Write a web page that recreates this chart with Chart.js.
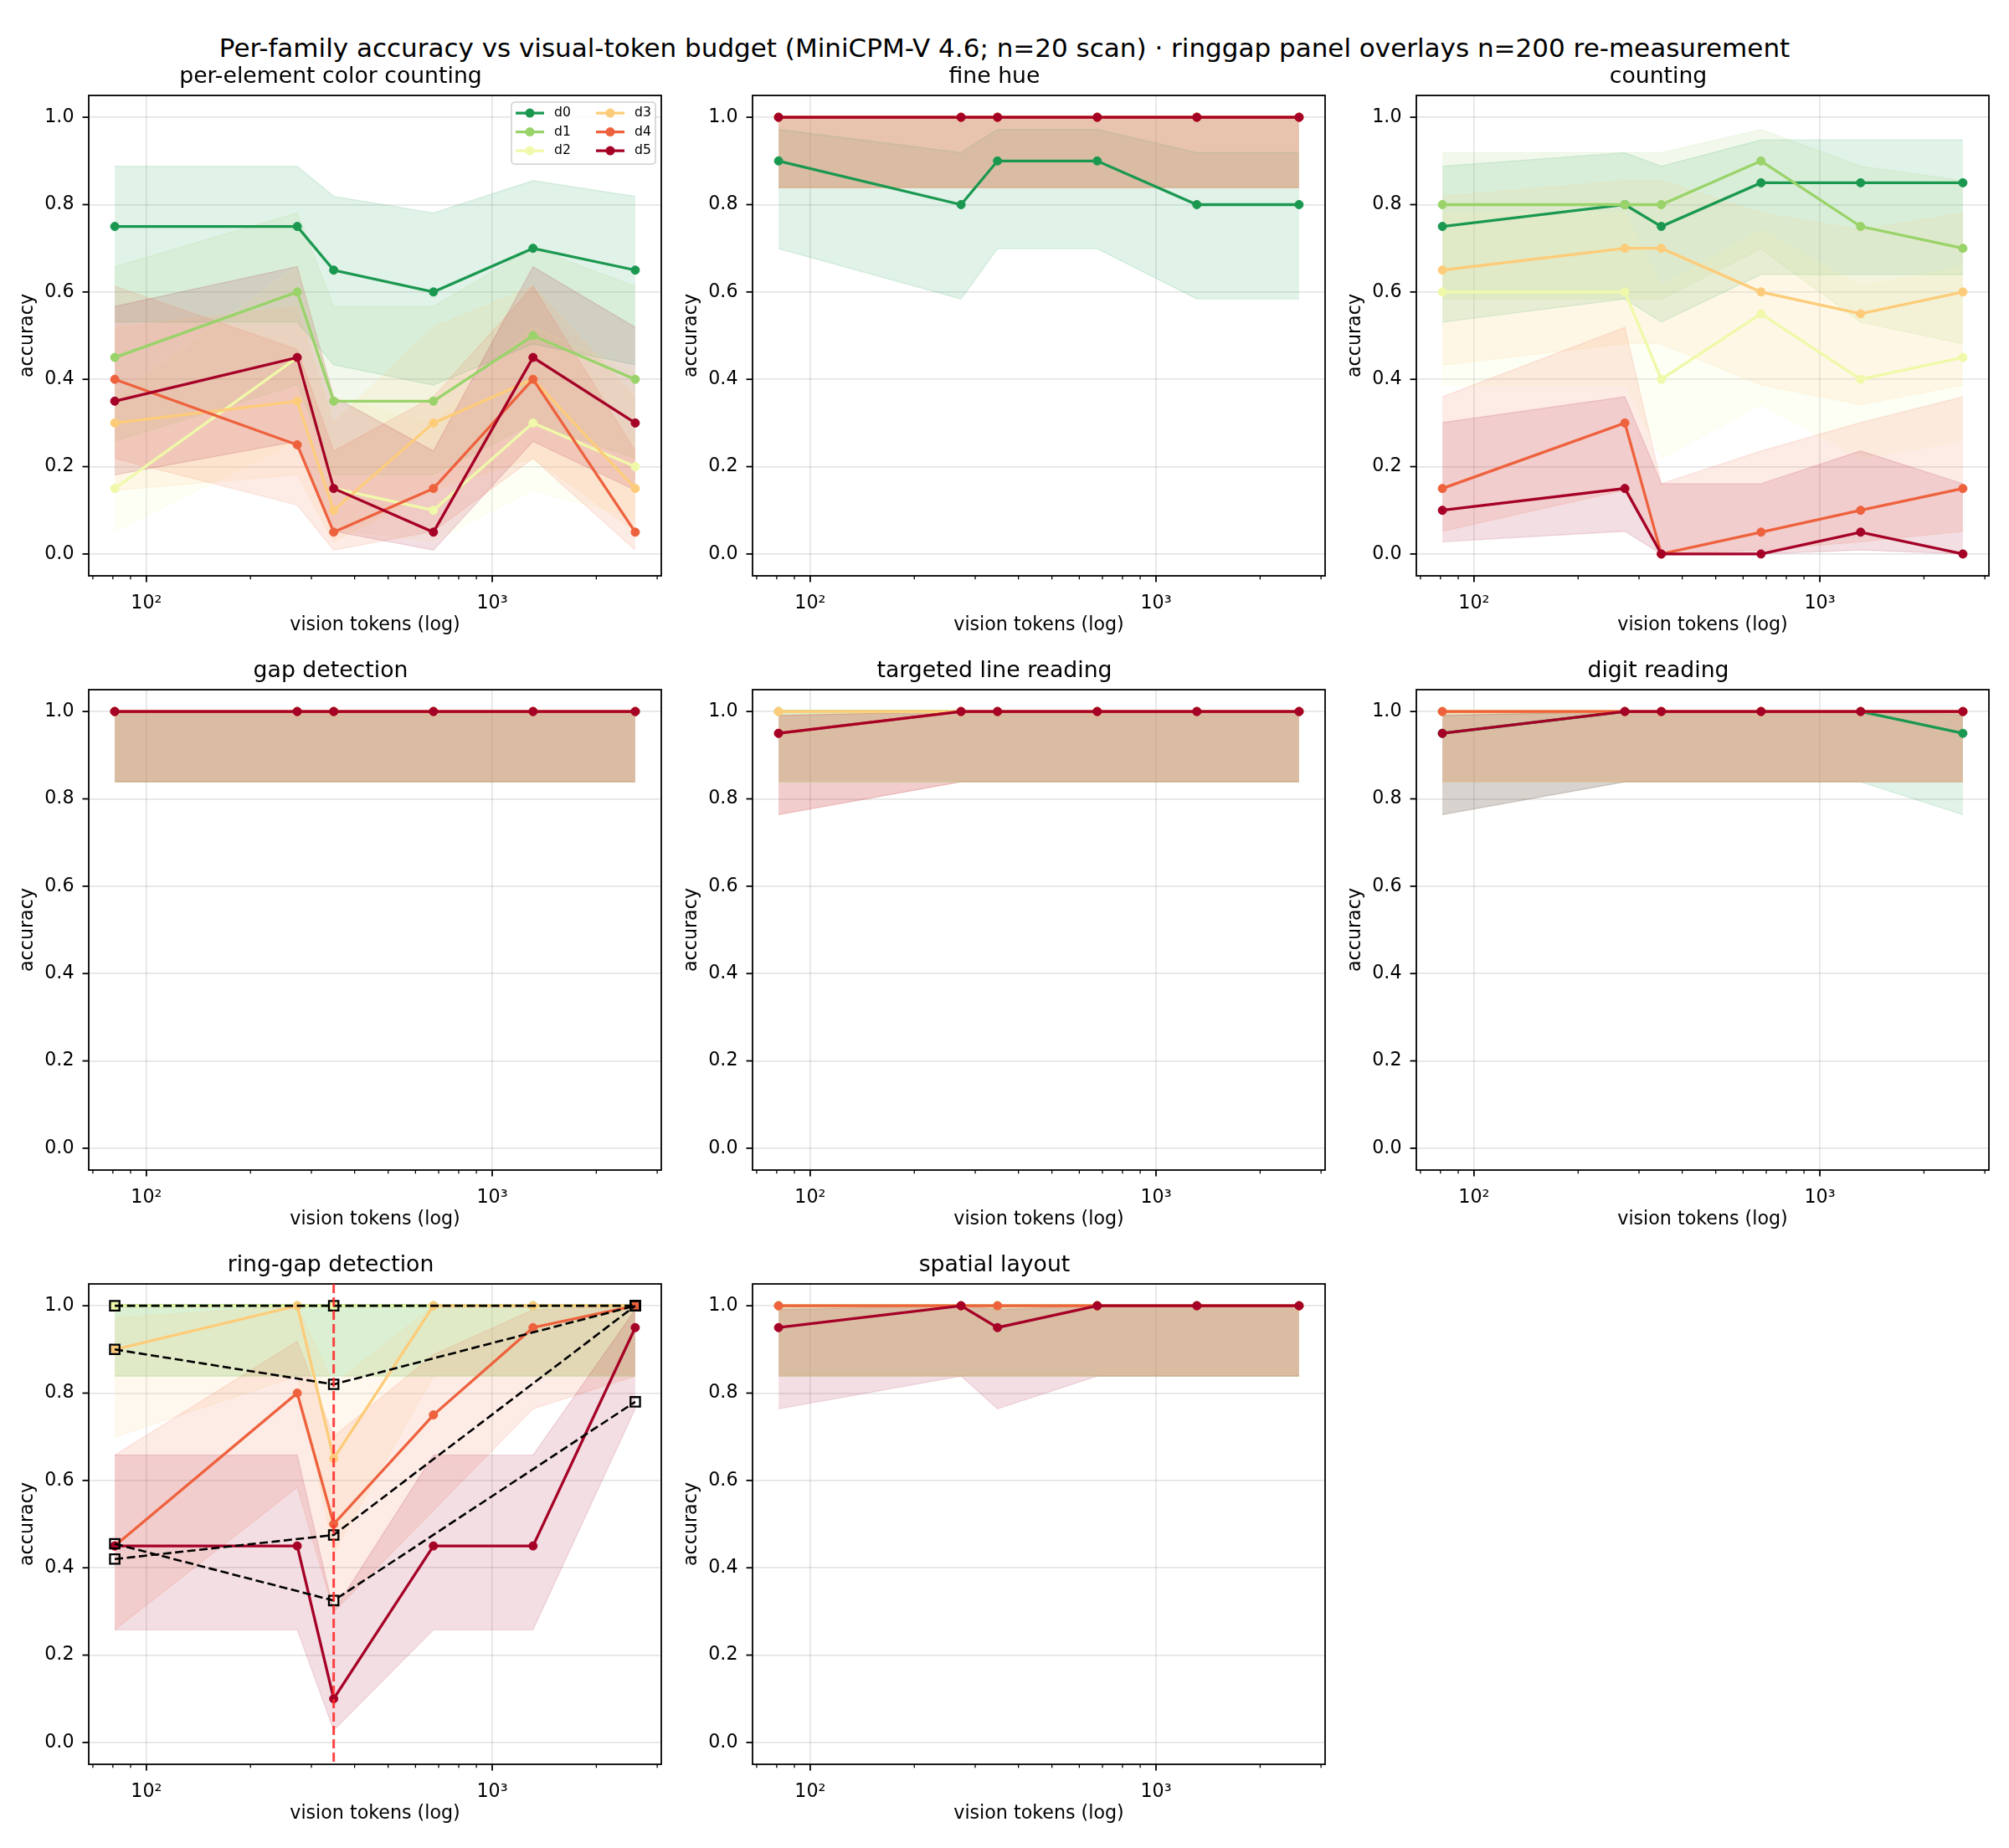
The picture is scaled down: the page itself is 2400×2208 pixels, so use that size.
<!DOCTYPE html>
<html>
<head>
<meta charset="utf-8">
<script src="https://cdn.jsdelivr.net/npm/chart.js@4.4.1/dist/chart.umd.min.js"></script>
<style>
  body { margin: 0; background: #fff; }
  #page { position: relative; width: 2400px; height: 2208px; background: #fff; overflow: hidden; }
  #suptitle { position: absolute; left: 0; top: 39px; width: 2400px; text-align: center;
              font: 31px "DejaVu Sans"; line-height: 36px; color: #000; white-space: nowrap; }
  canvas { position: absolute; }
</style>
</head>
<body>
<div id="page">
  <div id="suptitle">Per-family accuracy vs visual-token budget (MiniCPM-V 4.6; n=20 scan) · ringgap panel overlays n=200 re-measurement</div>
</div>
<script>
// x positions (vision tokens) shared by every panel
const tokens = [81, 273, 348, 676, 1312, 2592];
const families = ['d0', 'd1', 'd2', 'd3', 'd4', 'd5'];
const familyColors = ['#1a9850', '#99d369', '#f0f9aa', '#fdcc7a', '#ee613d', '#a50026'];

const xTicks = [70, 80, 90, 100, 200, 300, 400, 500, 600, 700, 800, 900, 1000, 2000, 3000];
const yTicks = [0, 0.2, 0.4, 0.6, 0.8, 1.0];

// accuracy, one row per family d0..d5 (n=20 scan)
const colorCounting = [
  [0.75, 0.75, 0.65, 0.60, 0.70, 0.65],
  [0.45, 0.60, 0.35, 0.35, 0.50, 0.40],
  [0.15, 0.45, 0.15, 0.10, 0.30, 0.20],
  [0.30, 0.35, 0.10, 0.30, 0.40, 0.15],
  [0.40, 0.25, 0.05, 0.15, 0.40, 0.05],
  [0.35, 0.45, 0.15, 0.05, 0.45, 0.30]
];
const fineHue = [
  [0.90, 0.80, 0.90, 0.90, 0.80, 0.80],
  [1, 1, 1, 1, 1, 1],
  [1, 1, 1, 1, 1, 1],
  [1, 1, 1, 1, 1, 1],
  [1, 1, 1, 1, 1, 1],
  [1, 1, 1, 1, 1, 1]
];
const counting = [
  [0.75, 0.80, 0.75, 0.85, 0.85, 0.85],
  [0.80, 0.80, 0.80, 0.90, 0.75, 0.70],
  [0.60, 0.60, 0.40, 0.55, 0.40, 0.45],
  [0.65, 0.70, 0.70, 0.60, 0.55, 0.60],
  [0.15, 0.30, 0.00, 0.05, 0.10, 0.15],
  [0.10, 0.15, 0.00, 0.00, 0.05, 0.00]
];
const gapDetection = [
  [1, 1, 1, 1, 1, 1],
  [1, 1, 1, 1, 1, 1],
  [1, 1, 1, 1, 1, 1],
  [1, 1, 1, 1, 1, 1],
  [1, 1, 1, 1, 1, 1],
  [1, 1, 1, 1, 1, 1]
];
const lineReading = [
  [1, 1, 1, 1, 1, 1],
  [1, 1, 1, 1, 1, 1],
  [1, 1, 1, 1, 1, 1],
  [1, 1, 1, 1, 1, 1],
  [0.95, 1, 1, 1, 1, 1],
  [0.95, 1, 1, 1, 1, 1]
];
const digitReading = [
  [0.95, 1, 1, 1, 1, 0.95],
  [1, 1, 1, 1, 1, 1],
  [1, 1, 1, 1, 1, 1],
  [1, 1, 1, 1, 1, 1],
  [1, 1, 1, 1, 1, 1],
  [0.95, 1, 1, 1, 1, 1]
];
const ringGap = [
  [1, 1, 1, 1, 1, 1],
  [1, 1, 1, 1, 1, 1],
  [1, 1, 1, 1, 1, 1],
  [0.90, 1.00, 0.65, 1.00, 1.00, 1.00],
  [0.45, 0.80, 0.50, 0.75, 0.95, 1.00],
  [0.45, 0.45, 0.10, 0.45, 0.45, 0.95]
];
const spatialLayout = [
  [1, 1, 1, 1, 1, 1],
  [1, 1, 1, 1, 1, 1],
  [1, 1, 1, 1, 1, 1],
  [1, 1, 1, 1, 1, 1],
  [1, 1, 1, 1, 1, 1],
  [0.95, 1, 0.95, 1, 1, 1]
];

// n=200 re-measurement on the ring-gap panel
const recheckTokens = [81, 348, 2592];
const recheckAcc = [
  [1.00, 1.00, 1.00],
  [0.90, 0.82, 1.00],
  [0.42, 0.475, 1.00],
  [0.455, 0.325, 0.78]
];
const recheckMark = 348;

// 95% band bounds for n=20, indexed by number correct (0..20)
const bandLow  = [0.000, 0.009, 0.028, 0.052, 0.081, 0.112, 0.146, 0.181, 0.219, 0.258, 0.299,
                  0.342, 0.387, 0.433, 0.481, 0.531, 0.584, 0.640, 0.699, 0.764, 0.839];
const bandHigh = [0.161, 0.236, 0.301, 0.360, 0.416, 0.469, 0.519, 0.567, 0.613, 0.658, 0.701,
                  0.742, 0.781, 0.819, 0.855, 0.888, 0.919, 0.948, 0.972, 0.991, 1.000];

const panels = [
  { title: 'per-element color counting', acc: colorCounting, legend: true },
  { title: 'fine hue', acc: fineHue },
  { title: 'counting', acc: counting },
  { title: 'gap detection', acc: gapDetection },
  { title: 'targeted line reading', acc: lineReading },
  { title: 'digit reading', acc: digitReading },
  { title: 'ring-gap detection', acc: ringGap, recheck: true },
  { title: 'spatial layout', acc: spatialLayout }
];

// layout (px)
const colLeft = [106, 899, 1692];
const rowTop = [114, 824, 1534];
const AX_W = 684, AX_H = 574;
const PAD_L = 106, PAD_T = 38, PAD_R = 106, PAD_B = 90;
const FONT = 'DejaVu Sans';
const GRID = 'rgba(0,0,0,0.1)';
const TICK_FONT = 22.2;

Chart.defaults.font.family = FONT;
Chart.defaults.color = '#000';

const lmin = Math.log10(tokens[0]), lmax = Math.log10(tokens[tokens.length - 1]);
const lpad = (lmax - lmin) * 0.05;
const X_MIN = Math.pow(10, lmin - lpad), X_MAX = Math.pow(10, lmax + lpad);

function isDecade(v) {
  const l = Math.log10(v);
  return Math.abs(l - Math.round(l)) < 1e-9;
}
function rgba(hex, a) {
  const n = parseInt(hex.slice(1), 16);
  return `rgba(${(n >> 16) & 255},${(n >> 8) & 255},${n & 255},${a})`;
}

const framePlugin = {
  id: 'frame',
  afterDatasetsDraw(chart) {
    const { ctx, chartArea: a, scales: { x, y } } = chart;
    ctx.save();
    ctx.strokeStyle = '#000';
    xTicks.forEach(v => {
      const px = x.getPixelForValue(v);
      if (px < a.left - 0.5 || px > a.right + 0.5) return;
      const major = isDecade(v);
      ctx.lineWidth = major ? 1.8 : 1.3;
      ctx.beginPath();
      ctx.moveTo(px, a.bottom);
      ctx.lineTo(px, a.bottom + (major ? 7.5 : 4.3));
      ctx.stroke();
    });
    yTicks.forEach(v => {
      const py = y.getPixelForValue(v);
      ctx.lineWidth = 1.8;
      ctx.beginPath();
      ctx.moveTo(a.left, py);
      ctx.lineTo(a.left - 7.5, py);
      ctx.stroke();
    });
    ctx.lineWidth = 1.8;
    ctx.strokeRect(a.left, a.top, a.right - a.left, a.bottom - a.top);
    ctx.restore();
  }
};

const markPlugin = {
  id: 'recheckMark',
  afterDatasetsDraw(chart) {
    const { ctx, chartArea: a, scales: { x } } = chart;
    const px = x.getPixelForValue(recheckMark);
    ctx.save();
    ctx.strokeStyle = 'rgba(255,40,40,0.85)';
    ctx.lineWidth = 3;
    ctx.setLineDash([11, 5]);
    ctx.beginPath();
    ctx.moveTo(px, a.top);
    ctx.lineTo(px, a.bottom);
    ctx.stroke();
    ctx.restore();
  }
};

const legendPlugin = {
  id: 'familyLegend',
  afterDraw(chart) {
    const { ctx, chartArea: a } = chart;
    const w = 172, h = 74;
    const bx = a.right - 7 - w, by = a.top + 8;
    ctx.save();
    ctx.beginPath();
    ctx.roundRect(bx, by, w, h, 4);
    ctx.fillStyle = 'rgba(255,255,255,0.8)';
    ctx.fill();
    ctx.strokeStyle = 'rgba(204,204,204,0.8)';
    ctx.lineWidth = 1.8;
    ctx.stroke();
    ctx.font = `15.6px "${FONT}"`;
    ctx.textBaseline = 'middle';
    families.forEach((name, i) => {
      const col = Math.floor(i / 3), row = i % 3;
      const x0 = bx + 5 + col * 96, yy = by + 13 + row * 22.5;
      ctx.strokeStyle = familyColors[i];
      ctx.lineWidth = 3.3;
      ctx.beginPath();
      ctx.moveTo(x0, yy);
      ctx.lineTo(x0 + 34, yy);
      ctx.stroke();
      ctx.beginPath();
      ctx.arc(x0 + 17, yy, 5.5, 0, Math.PI * 2);
      ctx.fillStyle = familyColors[i];
      ctx.fill();
      ctx.fillStyle = '#000';
      ctx.fillText(name, x0 + 46, yy);
    });
    ctx.restore();
  }
};

function buildDatasets(p) {
  const sets = [];
  p.acc.forEach((vals, i) => {
    const c = familyColors[i];
    const hi = vals.map((v, j) => ({ x: tokens[j], y: bandHigh[Math.round(v * 20)] }));
    const lo = vals.map((v, j) => ({ x: tokens[j], y: bandLow[Math.round(v * 20)] }));
    // higher order -> drawn earlier, so d5's band ends up on top like the reference
    sets.push({ data: hi, fill: '+1', backgroundColor: rgba(c, 0.13), borderColor: rgba(c, 0.13),
                borderWidth: 1.3, pointRadius: 0, order: 200 - i });
    sets.push({ data: lo, fill: false, borderColor: rgba(c, 0.13), borderWidth: 1.3,
                pointRadius: 0, order: 200 - i });
  });
  p.acc.forEach((vals, i) => {
    const c = familyColors[i];
    sets.push({
      label: families[i],
      data: vals.map((v, j) => ({ x: tokens[j], y: v })),
      borderColor: c, backgroundColor: c, borderWidth: 3.3, fill: false,
      pointRadius: 5, pointBorderWidth: 1, pointBackgroundColor: c, pointBorderColor: c,
      order: 50 - i
    });
  });
  if (p.recheck) {
    recheckAcc.forEach((vals, k) => {
      sets.push({
        label: 'n=200',
        data: vals.map((v, j) => ({ x: recheckTokens[j], y: v })),
        borderColor: '#000', borderWidth: 2.6, borderDash: [10, 4.5], fill: false,
        pointStyle: 'rect', pointRadius: 8, pointBorderWidth: 2.3,
        pointBackgroundColor: 'rgba(0,0,0,0)', pointBorderColor: '#000',
        order: 10 - k
      });
    });
  }
  return sets;
}

const page = document.getElementById('page');
panels.forEach((p, idx) => {
  const col = idx % 3, row = Math.floor(idx / 3);
  const cv = document.createElement('canvas');
  const W = PAD_L + AX_W + PAD_R, H = PAD_T + AX_H + PAD_B;
  cv.width = W; cv.height = H;
  cv.style.width = W + 'px'; cv.style.height = H + 'px';
  cv.style.left = (colLeft[col] - PAD_L) + 'px';
  cv.style.top = (rowTop[row] - PAD_T) + 'px';
  page.appendChild(cv);

  const plugins = [framePlugin];
  if (p.recheck) plugins.push(markPlugin);
  if (p.legend) plugins.push(legendPlugin);

  new Chart(cv, {
    type: 'line',
    data: { datasets: buildDatasets(p) },
    plugins,
    options: {
      responsive: false,
      animation: false,
      devicePixelRatio: 1,
      layout: { padding: { left: 0, right: PAD_R, top: 0, bottom: 0 } },
      plugins: {
        legend: { display: false },
        tooltip: { enabled: false },
        filler: { drawTime: 'beforeDatasetsDraw' },
        title: { display: true, text: p.title, color: '#000',
                 font: { family: FONT, size: 26.7, weight: 'normal' },
                 padding: { top: 0, bottom: 6 } }
      },
      scales: {
        x: {
          type: 'logarithmic', min: X_MIN, max: X_MAX,
          afterBuildTicks: s => { s.ticks = xTicks.map(v => ({ value: v, major: isDecade(v) })); },
          afterFit: s => { s.height = PAD_B; },
          ticks: { autoSkip: false, maxRotation: 0, minRotation: 0, padding: 12, color: '#000',
                   font: { family: FONT, size: TICK_FONT },
                   callback: v => v === 100 ? '10²' : (v === 1000 ? '10³' : '') },
          grid: { color: c => (c.tick && isDecade(c.tick.value)) ? GRID : 'rgba(0,0,0,0)',
                  lineWidth: 1.7, drawTicks: true, tickLength: 7.5, tickColor: 'rgba(0,0,0,0)' },
          border: { display: false },
          title: { display: true, text: 'vision tokens (log)', color: '#000',
                   font: { family: FONT, size: TICK_FONT }, padding: { top: 0, bottom: 17 } }
        },
        y: {
          min: -0.05, max: 1.05,
          afterBuildTicks: s => { s.ticks = yTicks.map(v => ({ value: v })); },
          afterFit: s => { s.width = PAD_L; },
          ticks: { padding: 10, color: '#000', font: { family: FONT, size: TICK_FONT },
                   callback: v => Number(v).toFixed(1) },
          grid: { color: GRID, lineWidth: 1.7, drawTicks: true, tickLength: 7.5,
                  tickColor: 'rgba(0,0,0,0)' },
          border: { display: false },
          title: { display: true, text: 'accuracy', color: '#000',
                   font: { family: FONT, size: TICK_FONT }, padding: { top: 20, bottom: 0 } }
        }
      }
    }
  });
});
</script>
</body>
</html>
